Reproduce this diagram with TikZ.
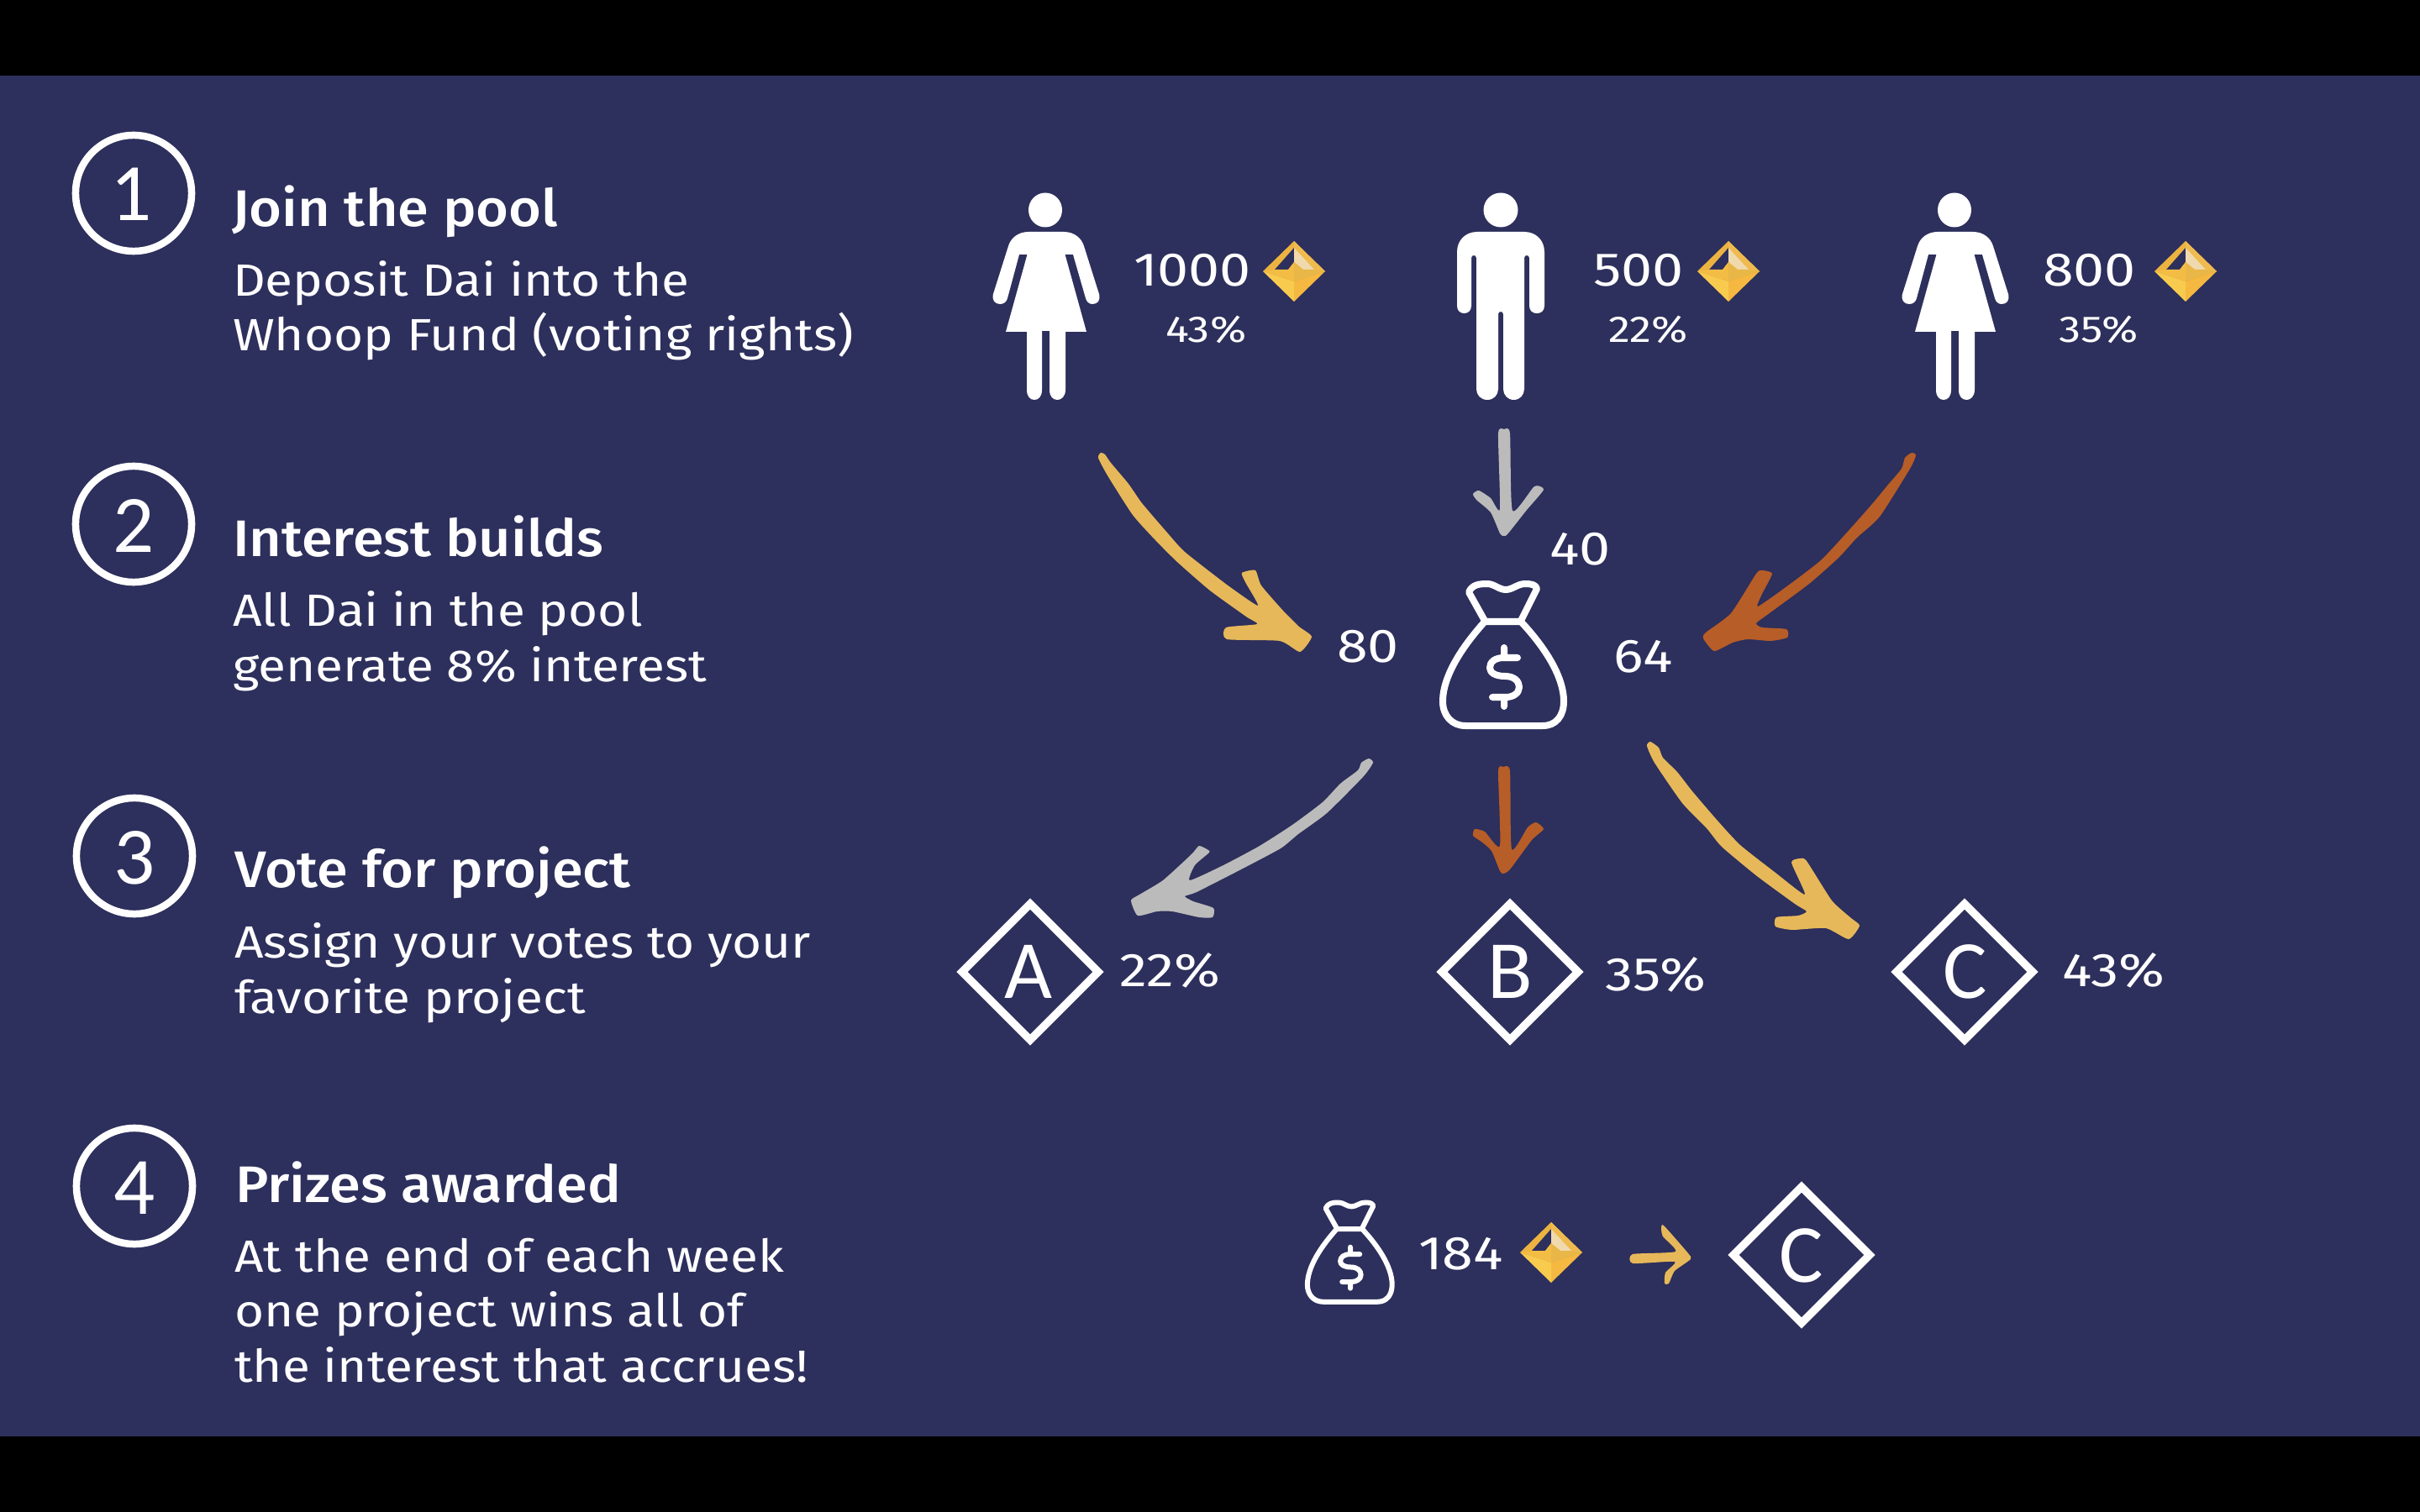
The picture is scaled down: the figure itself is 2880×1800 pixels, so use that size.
\documentclass[tikz,border=0pt]{standalone}
\usepackage{fontspec}
\setmainfont{Fira Sans}
\newfontfamily\ltr{Carlito}
\newfontfamily\bodyf[FakeStretch=1.12]{Fira Sans}
\newfontfamily\headf[FakeStretch=1.09]{Fira Sans Medium}
\newfontfamily\numf[FakeStretch=1.18]{Fira Sans}
\newcommand{\fsz}[1]{\fontsize{#1}{#1}\selectfont}
\definecolor{navy}{HTML}{2D2F5C}
\definecolor{arrowgold}{HTML}{E6B85A}
\definecolor{arrowgray}{HTML}{BBBBBB}
\definecolor{arrowbrown}{HTML}{B75D27}
\definecolor{gemring}{HTML}{ECB340}
\definecolor{gemringr}{HTML}{EFBB4F}
\definecolor{gemlight}{HTML}{F0D9AD}
\definecolor{gemll}{HTML}{F8CB4E}
\definecolor{gemlr}{HTML}{F5B840}
\definecolor{gemml}{HTML}{F3BC45}
\definecolor{gemmr}{HTML}{E9B747}
\tikzset{
  x=0.01cm,y=-0.01cm,
  every node/.style={inner sep=0pt,outer sep=0pt,text=white},
  headtext/.style={anchor=base west,font=\headf\fsz{17.4}},
  bodytext/.style={anchor=base west,align=left,font=\bodyf\fontsize{15.3}{18.5}\selectfont},
  numtext/.style={anchor=base west,font=\numf\fsz{16}},
  pcttext/.style={anchor=base west,font=\numf\fsz{12.6}},
  stepdigit/.style={anchor=base,font=\ltr\fsz{27.6}},
  ltrtext/.style={anchor=base,font=\ltr\fsz{28}},
  stepring/.style={draw=white,line width=0.085cm},
  diamondbox/.style={draw=white,line width=0.095cm,miter limit=10},
  handarrow/.style={smooth cycle,tension=0.35},
  bagline/.style={draw=white,line cap=round,line join=round},
  woman/.pic={
    \fill[white] (0,250) ellipse[x radius=20,y radius=20.5];
    \fill[white] (-20,276) -- (22,276) .. controls (34,276) and (43,283) .. (46,293)
      -- (64,350) .. controls (66,358) and (62,362) .. (56,362) .. controls (52,362) and (49,359) .. (48,355)
      -- (33,303) -- (23.5,303) -- (49,395) -- (24,395) -- (24,464)
      .. controls (24,472) and (19,476) .. (14.5,476) .. controls (9,476) and (5,472) .. (5,464)
      -- (5,394) -- (-4,394) -- (-4,464)
      .. controls (-4,472) and (-8,476) .. (-13,476) .. controls (-18,476) and (-22,472) .. (-22,464)
      -- (-22,395) -- (-47,395) -- (-21.5,303) -- (-31,303) -- (-45,355)
      .. controls (-46,359) and (-49,362) .. (-54,362) .. controls (-60,362) and (-64,357) .. (-62,350)
      -- (-44,293) .. controls (-41,283) and (-32,276) .. (-20,276) -- cycle;
  },
  man/.pic={
    \fill[white] (0,250) circle[radius=20.5];
    \fill[white] (-28,276) -- (28,276) .. controls (42,276) and (52,286) .. (52,300)
      -- (52,364) .. controls (52,370) and (48,373) .. (43,373) .. controls (38,373) and (34,370) .. (34,364)
      -- (34,307) .. controls (34,303) and (28,303) .. (28,307)
      -- (28,463) .. controls (28,470) and (23,476) .. (15.5,476) .. controls (8,476) and (3,470) .. (3,463)
      -- (3,374) .. controls (3,370) and (-3,370) .. (-3,374)
      -- (-3,463) .. controls (-3,470) and (-8,476) .. (-16,476) .. controls (-24,476) and (-29,470) .. (-29,463)
      -- (-29,307) .. controls (-29,303) and (-35,303) .. (-35,307)
      -- (-35,364) .. controls (-35,370) and (-39,373) .. (-43.5,373) .. controls (-48,373) and (-52,370) .. (-52,364)
      -- (-52,300) .. controls (-52,286) and (-42,276) .. (-28,276) -- cycle;
  },
  gem/.pic={
    \fill[gemring] (0,-36) -- (37,0) -- (0,12) -- (-37,0) -- cycle;
    \fill[gemringr] (0,-36) -- (37,0) -- (0,12) -- cycle;
    \fill[navy] (0,-28) -- (-23,-2) -- (-7,-2) -- (0,-11) -- cycle;
    \fill[gemlight] (0,-28) -- (24,-2) -- (11,-2) -- (0,-11) -- cycle;
    \fill[gemml] (-37,0) -- (-23,-2) -- (-7,-2) -- (0,-11) -- (0,12) -- cycle;
    \fill[gemmr] (37,0) -- (24,-2) -- (11,-2) -- (0,-11) -- (0,12) -- cycle;
    \fill[gemll] (-37,0) -- (0,12) -- (0,36) -- cycle;
    \fill[gemlr] (37,0) -- (0,12) -- (0,36) -- cycle;
  },
  moneybag/.pic={
    \draw[bagline,line width=\pgfkeysvalueof{/tikz/bagw}]
      (-23,-40) .. controls (-50,-10) and (-73,25) .. (-73,55)
      .. controls (-73,72) and (-62,84) .. (-46,84) -- (46,84)
      .. controls (62,84) and (71,72) .. (71,55)
      .. controls (71,25) and (48,-10) .. (20,-40) -- cycle;
    \draw[bagline,line width=\pgfkeysvalueof{/tikz/bagw}]
      (-23,-41) -- (-42,-75) .. controls (-38,-84) and (-30,-85) .. (-20,-85)
      .. controls (-12,-85) and (-6,-78) .. (2,-78)
      .. controls (10,-78) and (16,-85) .. (25,-85)
      .. controls (32,-85) and (38,-84) .. (39,-79) -- (20,-41);
    \draw[bagline,line width=\pgfkeysvalueof{/tikz/bagw}]
      (16,3) -- (0,3) .. controls (-11,3) and (-17,8) .. (-17,15)
      .. controls (-17,21) and (-10,25) .. (1,25)
      .. controls (12,25) and (18,31) .. (18,38)
      .. controls (18,45) and (11,50) .. (2,50) -- (-14,50)
      (0,-9) -- (0,3) (0,50) -- (0,61);
  },
  /tikz/bagw/.initial=0.08cm,
}
\begin{document}
\begin{tikzpicture}
\useasboundingbox (0,0) rectangle (2880,1800);
\fill[black] (0,0) rectangle (2880,1800);
\fill[navy] (0,90) rectangle (2880,1710);

% left column
\node[stepring,circle,minimum size=1.38cm] (c1) at (159,230) {};
\node[stepdigit] (d1) at (156,263) {1};
\node[headtext] (h1) at (276,270) {Join the pool};
\node[bodytext] (b1) at (277,418) {Deposit Dai into the\\Whoop Fund (voting rights)};

\node[stepring,circle,minimum size=1.38cm] (c2) at (159,624) {};
\node[stepdigit] (d2) at (159,657) {2};
\node[headtext] (h2) at (277,662) {Interest builds};
\node[bodytext] (b2) at (277,811) {All Dai in the pool\\generate 8\% interest};

\node[stepring,circle,minimum size=1.38cm] (c3) at (160,1019) {};
\node[stepdigit] (d3) at (160,1052) {3};
\node[headtext] (h3) at (279,1056) {Vote for project};
\node[bodytext] (b3) at (279,1206) {Assign your votes to your\\favorite project};

\node[stepring,circle,minimum size=1.38cm] (c4) at (160,1412) {};
\node[stepdigit] (d4) at (160,1445) {4};
\node[headtext] (h4) at (280,1431) {Prizes awarded};
\node[bodytext] (b4) at (279,1645) {At the end of each week\\one project wins all of\\the interest that accrues!};

% people
\pic at (1244,0) {woman};
\pic at (1786,0) {man};
\pic at (2326,0) {woman};
\pic at (1540,323) {gem};
\pic at (2057,323) {gem};
\pic at (2601,323) {gem};
\node[numtext] (n1000) at (1349,341) {1000};
\node[pcttext] (p43a) at (1387,407) {43\%};
\node[numtext] (n500) at (1896,341) {500};
\node[pcttext] (p22a) at (1914,407) {22\%};
\node[numtext] (n800) at (2431,341) {800};
\node[pcttext] (p35a) at (2450,407) {35\%};

% pool
\pic at (1790,780) {moneybag};
\node[numtext] (n80) at (1591,788) {80};
\node[numtext] (n40) at (1844,672) {40};
\node[numtext] (n64) at (1920,800) {64};

% arrows
\fill[arrowgold] plot[handarrow] coordinates {(1310,539)(1307,545)(1318,566)(1348,613)(1375,643)(1401,669)(1440,703)(1483,734)(1496,743)(1459,747)(1460,761)(1523,763)(1547,776)(1561,758)(1546,746)(1527,727)(1501,697)(1494,679)(1478,682)(1482,693)(1497,721)(1460,696)(1410,657)(1389,634)(1359,599)(1343,576)(1322,551)(1315,541)};
\fill[arrowgray] plot[handarrow] coordinates {(1783,516)(1790,511)(1797,516)(1800,608)(1826,579)(1837,583)(1817,607)(1794,636)(1789,638)(1785,635)(1774,610)(1757,595)(1753,588)(1760,584)(1774,593)(1785,606)};
\fill[arrowbrown] plot[handarrow] coordinates {(2280,542)(2275,539)(2267,545)(2263,558)(2247,577)(2228,600)(2197,635)(2167,667)(2128,697)(2092,722)(2097,707)(2109,683)(2097,679)(2090,683)(2060,730)(2030,753)(2027,760)(2040,775)(2062,765)(2080,761)(2107,763)(2127,759)(2126,749)(2097,747)(2090,742)(2103,732)(2153,695)(2188,664)(2210,640)(2237,615)(2273,558)};
\fill[arrowgray] plot[handarrow] coordinates {(1634,908)(1629,903)(1620,908)(1616,917)(1595,933)(1574,955)(1538,982)(1499,1007)(1456,1030)(1416,1048)(1422,1030)(1439,1015)(1438,1012)(1427,1007)(1418,1017)(1384,1048)(1356,1065)(1346,1072)(1354,1090)(1377,1085)(1395,1085)(1427,1092)(1443,1092)(1444,1081)(1420,1073)(1410,1067)(1424,1062)(1477,1035)(1524,1010)(1545,993)(1579,968)(1622,925)};
\fill[arrowbrown] plot[handarrow] coordinates {(1783,918)(1789,913)(1797,918)(1799,1011)(1818,985)(1828,979)(1837,987)(1823,1000)(1797,1035)(1789,1040)(1785,1037)(1775,1013)(1763,1002)(1753,995)(1755,987)(1767,990)(1785,1007)};
\fill[arrowgold] plot[handarrow] coordinates {(1964,883)(1960,888)(1969,908)(2002,956)(2031,986)(2049,1008)(2091,1043)(2136,1076)(2150,1085)(2140,1090)(2114,1092)(2113,1103)(2133,1107)(2173,1105)(2200,1118)(2213,1102)(2203,1093)(2180,1072)(2150,1025)(2142,1022)(2132,1027)(2148,1065)(2113,1039)(2071,1006)(2044,977)(2014,942)(1996,919)(1979,902)(1974,890)};

% projects
\draw[diamondbox] (1226,1076) -- (1307,1157) -- (1226,1238) -- (1145,1157) -- cycle;
\node[ltrtext] (lA) at (1224,1188) {A};
\node[numtext] (pA) at (1332,1174) {22\%};
\draw[diamondbox] (1797,1076) -- (1878,1157) -- (1797,1238) -- (1716,1157) -- cycle;
\node[ltrtext] (lB) at (1797,1188) {B};
\node[numtext] (pB) at (1910,1179) {35\%};
\draw[diamondbox] (2338,1076) -- (2419,1157) -- (2338,1238) -- (2257,1157) -- cycle;
\node[ltrtext] (lC) at (2339,1188) {C};
\node[numtext] (pC) at (2454,1174) {43\%};

% prize
\pic[scale=0.7,bagw=0.06cm] at (1607,1491) {moneybag};
\node[numtext] (n184) at (1688,1511) {184};
\pic at (1846,1491) {gem};
\fill[arrowgold] plot[handarrow] coordinates {(1943,1493)(1994,1490)(1979,1472)(1977,1462)(1980,1459)(2009,1492)(2012,1499)(1993,1513)(1986,1528)(1981,1528)(1982,1515)(1993,1502)(1943,1504)};
\draw[diamondbox] (2144,1413) -- (2225,1494) -- (2144,1575) -- (2063,1494) -- cycle;
\node[ltrtext] (lP) at (2144,1526) {C};
\end{tikzpicture}
\end{document}
